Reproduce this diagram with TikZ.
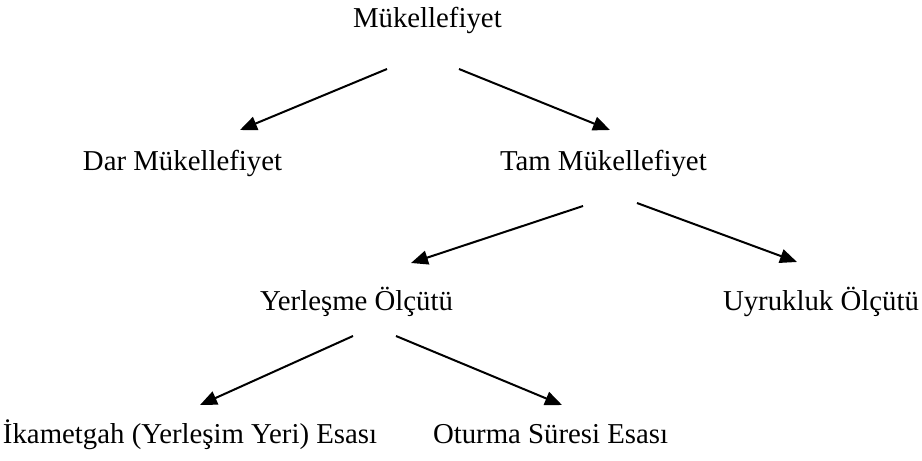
\documentclass[tikz,border=0pt]{standalone}
\usepackage{fontspec}
\setmainfont{Liberation Serif}
\usetikzlibrary{arrows.meta,calc}
\begin{document}
\begin{tikzpicture}[x=0.5pt, y=-0.5pt, font=\fontsize{14.4}{17}\selectfont, every node/.style={inner sep=0pt, outer sep=0pt, anchor=base west}, arr/.style={-{Triangle[length=8.5pt,width=7pt]}, line width=1pt}]
        \useasboundingbox (0, 0) rectangle (922, 461);

        \node (muk) at (353, 27) {Mükellefiyet};
        \node (dar) at (83, 170) {Dar Mükellefiyet};
        \node (tam) at (500, 170) {Tam Mükellefiyet};
        \node (yer) at (260, 310) {Yerleşme Ölçütü};
        \node (uyr) at (723, 310) {Uyrukluk Ölçütü};
        \node (ika) at (3, 443) {İkametgah (Yerleşim Yeri) Esası};
        \node (otu) at (433, 443) {Oturma Süresi Esası};

        \draw[arr] ($(muk.base west)+(34, 42)$) -- ($(dar.base west)+(157, -40)$);
        \draw[arr] ($(muk.base west)+(106, 42)$) -- ($(tam.base west)+(110, -40)$);
        \draw[arr] ($(tam.base west)+(83, 36)$) -- ($(yer.base west)+(151, -47)$);
        \draw[arr] ($(tam.base west)+(137, 33)$) -- ($(uyr.base west)+(74, -48)$);
        \draw[arr] ($(yer.base west)+(93, 26)$) -- ($(ika.base west)+(197, -38)$);
        \draw[arr] ($(yer.base west)+(136, 26)$) -- ($(otu.base west)+(129, -38)$);
    \end{tikzpicture}
\end{document}
